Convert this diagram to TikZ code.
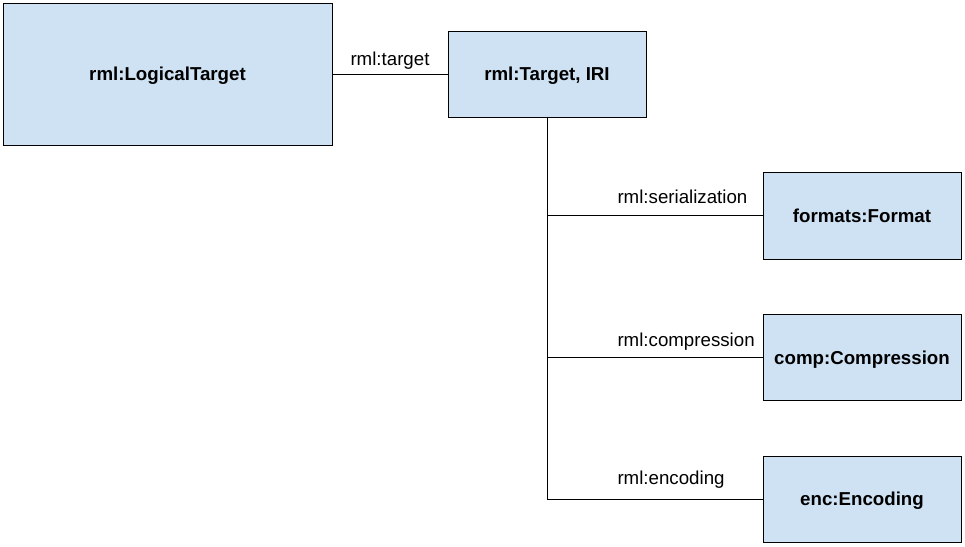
\documentclass[tikz,border=0pt]{standalone}
\usepackage{fontspec}
\setmainfont{Liberation Sans}
\definecolor{boxblue}{HTML}{CFE2F3}
\begin{document}
\begin{tikzpicture}[x=1pt, y=-1pt, line width=1pt,
    font=\fontsize{18.7}{22}\selectfont]
  \fill [white] (0, 0) rectangle (965, 546);  % page size
  \tikzstyle{cls}=[rectangle, draw, fill=boxblue, inner sep=0pt, text depth=0pt,
    minimum width=198pt, font=\fontsize{18.7}{22}\selectfont\bfseries]
  \tikzstyle{prop}=[inner sep=0pt, anchor=base west]

  \node[cls, minimum width=329pt, minimum height=142pt] (lt) at (167.5, 74) {rml:LogicalTarget};
  \node[cls, minimum height=86pt] (tgt) at (547, 74)    {rml:Target, IRI};
  \node[cls, minimum height=87pt] (fmt) at (862, 215.5) {formats:Format};
  \node[cls, minimum height=86pt] (cmp) at (862, 357.5) {comp:Compression};
  \node[cls, minimum height=86pt] (enc) at (862, 499)   {enc:Encoding};

  \coordinate (j1) at (547, 215.5);
  \coordinate (j2) at (547, 357.5);
  \coordinate (j3) at (547, 499);

  \path (lt) edge node[above=4pt, inner sep=0pt] (ptgt) {rml:target} (tgt);
  \draw (tgt) -- (j3);
  \draw (j1) -- (fmt);
  \draw (j2) -- (cmp);
  \draw (j3) -- (enc);

  \node[prop] (pser) at (617, 203) {rml:serialization};
  \node[prop] (pcmp) at (617, 346) {rml:compression};
  \node[prop] (penc) at (617, 484) {rml:encoding};
\end{tikzpicture}
\end{document}
